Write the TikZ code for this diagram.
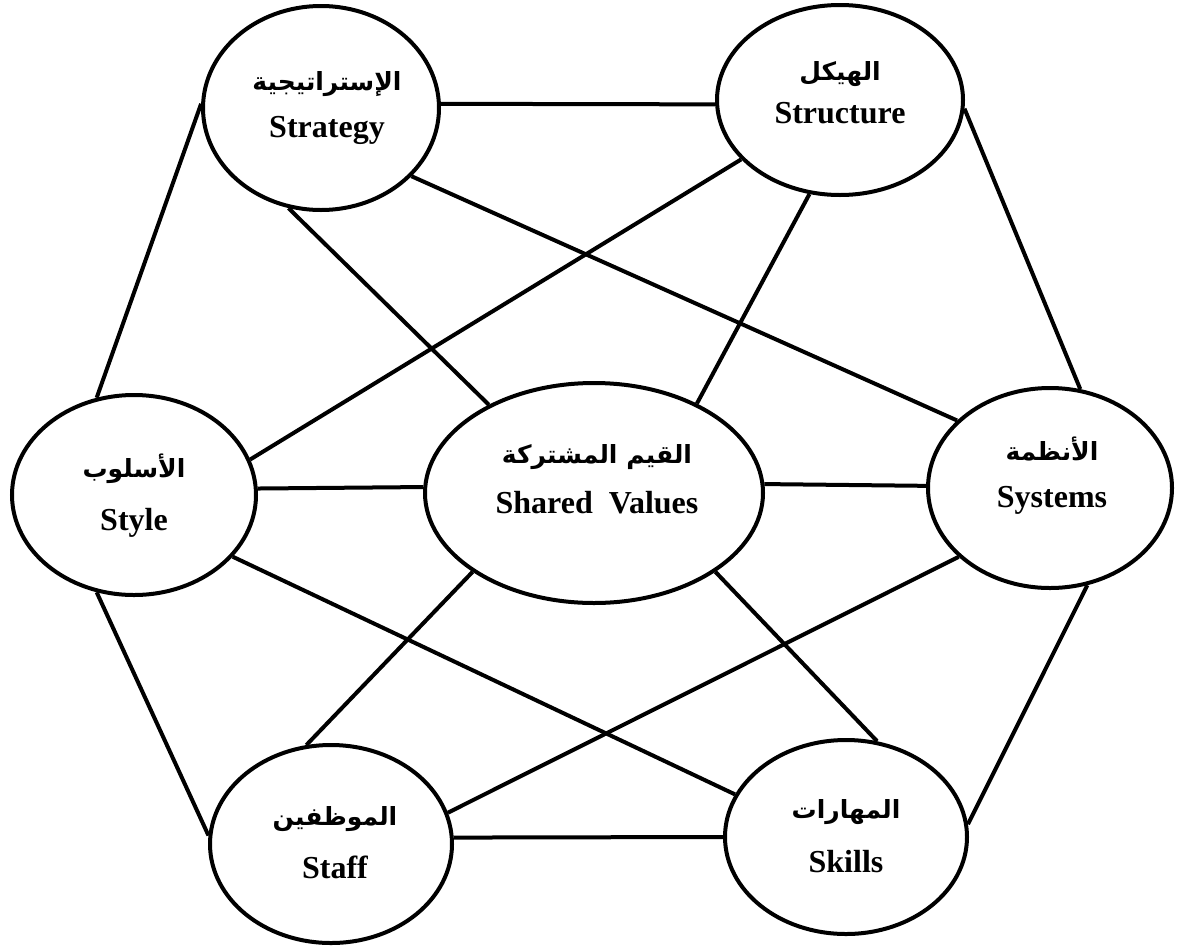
\documentclass[tikz,border=0pt]{standalone}
\usepackage{fontspec}
\setmainfont{Liberation Serif}
\newfontfamily\arabicfont[Script=Arabic]{DejaVu Sans}
\TeXXeTstate=1
\usetikzlibrary{shapes.geometric}
\tikzset{
  ov/.style={ellipse, draw, line width=4pt, fill=white, inner sep=0pt},
  link/.style={line width=4pt},
  entxt/.style={anchor=base, inner sep=0pt, font=\fontsize{32}{36}\selectfont\bfseries},
  artxt/.style={anchor=base, inner sep=0pt, font=\fontsize{25}{30}\selectfont\arabicfont\bfseries}
}
\begin{document}
\begin{tikzpicture}[x=1pt,y=-1pt]
\useasboundingbox[fill=white] (0,0) rectangle (1180,945);
% ellipses
\node[ov, minimum width=236pt, minimum height=204pt] (strat) at (321,108) {};
\node[ov, minimum width=246pt, minimum height=190pt] (struc) at (840,100) {};
\node[ov, minimum width=244pt, minimum height=200pt] (style) at (134,495) {};
\node[ov, minimum width=338pt, minimum height=220pt] (shared) at (594,493) {};
\node[ov, minimum width=244pt, minimum height=200pt] (sys) at (1050,488) {};
\node[ov, minimum width=242pt, minimum height=198pt] (staff) at (331,844) {};
\node[ov, minimum width=242pt, minimum height=194pt] (skills) at (846,837) {};
% connectors
\draw[link] (strat.2) -- (struc.182);
\draw[link] (strat.178) -- (style.111);
\draw[link] (strat.252) -- (shared.140);
\draw[link] (strat.323) -- (sys.144);
\draw[link] (struc.211) -- (style.17);
\draw[link] (struc.252) -- (shared.41);
\draw[link] (struc.356) -- (sys.73);
\draw[link] (style.3) -- (shared.178);
\draw[link] (style.328) -- (skills.159);
\draw[link] (style.249) -- (staff.176);
\draw[link] (shared.3) -- (sys.179);
\draw[link] (shared.213) -- (staff.104);
\draw[link] (shared.327) -- (skills.72);
\draw[link] (sys.217) -- (staff.15);
\draw[link] (sys.291) -- (skills.6);
\draw[link] (staff.3) -- (skills.180);
% texts
\node[artxt] (strat-ar) at (327,90) {\beginR الإستراتيجية\endR};
\node[entxt] (strat-en) at (327,137) {Strategy};
\node[artxt] (struc-ar) at (840,80) {\beginR الهيكل\endR};
\node[entxt] (struc-en) at (840,123) {Structure};
\node[artxt] (style-ar) at (134,477) {\beginR الأسلوب\endR};
\node[entxt] (style-en) at (134,530) {Style};
\node[artxt] (shared-ar) at (597,463) {\beginR القيم المشتركة\endR};
\node[entxt] (shared-en) at (597,513) {Shared\ \ Values};
\node[artxt] (sys-ar) at (1052,460) {\beginR الأنظمة\endR};
\node[entxt] (sys-en) at (1052,507) {Systems};
\node[artxt] (staff-ar) at (335,825) {\beginR الموظفين\endR};
\node[entxt] (staff-en) at (335,878) {Staff};
\node[artxt] (skills-ar) at (846,818) {\beginR المهارات\endR};
\node[entxt] (skills-en) at (846,872) {Skills};
\end{tikzpicture}
\end{document}
